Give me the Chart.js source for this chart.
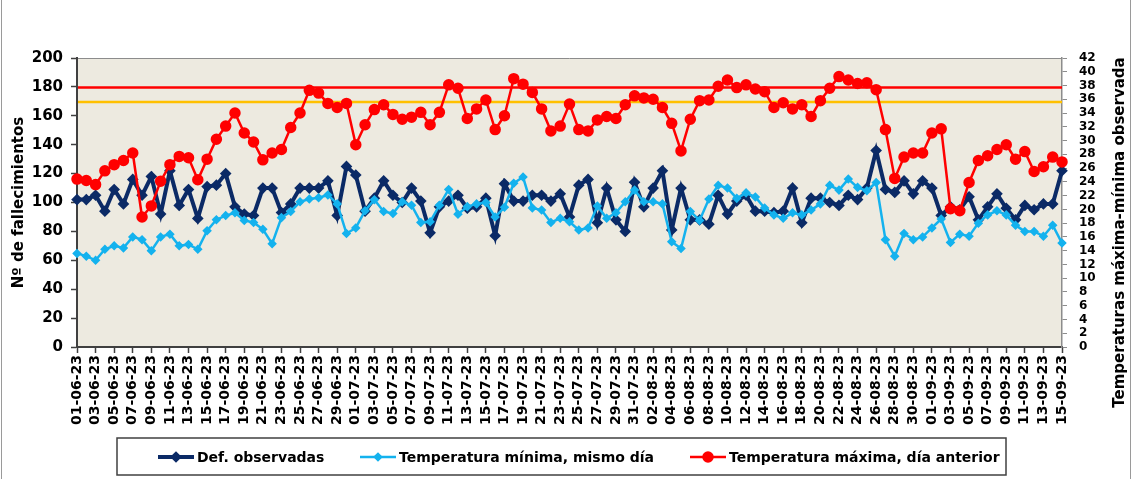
<!DOCTYPE html>
<html lang="es">
<head>
<meta charset="UTF-8">
<title>Defunciones observadas y temperaturas</title>
<script src="https://cdn.jsdelivr.net/npm/chart.js"></script>
<style>
  html, body { margin: 0; padding: 0; background: #fff; }
</style>
</head>
<body>
<canvas id="grafico" width="1132" height="479"></canvas>
<script>
// fechas (01-06-23 ... 15-09-23)
const fechas = [
  '01-06-23','02-06-23','03-06-23','04-06-23','05-06-23','06-06-23','07-06-23','08-06-23','09-06-23','10-06-23',
  '11-06-23','12-06-23','13-06-23','14-06-23','15-06-23','16-06-23','17-06-23','18-06-23','19-06-23','20-06-23',
  '21-06-23','22-06-23','23-06-23','24-06-23','25-06-23','26-06-23','27-06-23','28-06-23','29-06-23','30-06-23',
  '01-07-23','02-07-23','03-07-23','04-07-23','05-07-23','06-07-23','07-07-23','08-07-23','09-07-23','10-07-23',
  '11-07-23','12-07-23','13-07-23','14-07-23','15-07-23','16-07-23','17-07-23','18-07-23','19-07-23','20-07-23',
  '21-07-23','22-07-23','23-07-23','24-07-23','25-07-23','26-07-23','27-07-23','28-07-23','29-07-23','30-07-23',
  '31-07-23','01-08-23','02-08-23','03-08-23','04-08-23','05-08-23','06-08-23','07-08-23','08-08-23','09-08-23',
  '10-08-23','11-08-23','12-08-23','13-08-23','14-08-23','15-08-23','16-08-23','17-08-23','18-08-23','19-08-23',
  '20-08-23','21-08-23','22-08-23','23-08-23','24-08-23','25-08-23','26-08-23','27-08-23','28-08-23','29-08-23',
  '30-08-23','31-08-23','01-09-23','02-09-23','03-09-23','04-09-23','05-09-23','06-09-23','07-09-23','08-09-23',
  '09-09-23','10-09-23','11-09-23','12-09-23','13-09-23','14-09-23','15-09-23'
];

// defunciones observadas (eje izquierdo)
const defObservadas = [
  102,102,105,94,109,99,116,105,118,92,
  122,98,109,89,111,112,120,97,92,91,
  110,110,93,99,110,110,110,115,91,125,
  119,94,103,115,105,100,110,101,79,97,
  101,105,96,97,103,77,113,101,101,105,
  105,101,106,90,112,116,86,110,88,80,
  114,97,110,122,81,110,88,88,85,105,
  92,101,105,94,94,93,94,110,86,103,
  103,100,98,105,102,110,136,109,107,115,
  106,115,110,91,97,95,104,88,97,106,
  96,88,98,95,99,99,122
];

// temperatura mínima, mismo día (eje derecho)
const tempMinima = [
  13.6,13.2,12.6,14.2,14.7,14.4,16.0,15.6,14.0,16.0,
  16.4,14.7,14.9,14.2,16.9,18.5,19.1,19.5,18.4,18.1,
  17.1,15.0,18.8,19.7,21.1,21.5,21.7,22.1,20.8,16.5,
  17.3,19.8,21.4,19.7,19.4,21.1,20.6,18.1,18.2,20.6,
  22.9,19.3,20.4,20.8,21.0,18.9,20.3,23.8,24.7,20.2,
  19.9,18.1,18.7,18.2,17.0,17.3,20.5,18.7,19.5,21.1,
  22.8,21.1,21.1,20.8,15.3,14.3,19.7,18.4,21.5,23.5,
  23.1,21.6,22.4,21.8,20.2,19.2,18.7,19.5,19.2,19.9,
  20.8,23.5,22.8,24.4,23.2,22.7,23.9,15.6,13.2,16.5,
  15.6,16.0,17.3,18.6,15.2,16.4,16.1,18.0,19.2,19.8,
  19.2,17.7,16.8,16.8,16.1,17.7,15.1
];

// temperatura máxima, día anterior (eje derecho)
const tempMaxima = [
  24.4,24.2,23.6,25.6,26.5,27.1,28.2,18.9,20.5,24.1,
  26.5,27.7,27.5,24.3,27.3,30.2,32.1,34.0,31.1,29.8,
  27.2,28.2,28.7,31.9,34.0,37.3,36.9,35.4,34.8,35.4,
  29.4,32.3,34.5,35.2,33.8,33.1,33.4,34.1,32.3,34.1,
  38.1,37.6,33.2,34.6,35.9,31.6,33.6,39.0,38.2,37.0,
  34.6,31.4,32.1,35.3,31.6,31.4,33.0,33.5,33.2,35.2,
  36.5,36.2,36.0,34.8,32.5,28.5,33.1,35.8,35.9,37.9,
  38.8,37.7,38.1,37.5,37.1,34.8,35.5,34.6,35.2,33.5,
  35.8,37.6,39.3,38.8,38.3,38.4,37.4,31.6,24.5,27.6,
  28.2,28.2,31.1,31.7,20.1,19.8,23.9,27.1,27.8,28.7,
  29.4,27.3,28.4,25.5,26.2,27.6,26.9
];

// umbrales de temperatura máxima (eje derecho)
const umbralRojo = 37.7;
const umbralAmarillo = 35.6;

const FUENTE = '"DejaVu Sans", sans-serif';

const fondo = {
  id: 'fondo',
  beforeDraw(chart) {
    const { ctx, chartArea: a, width, height } = chart;
    ctx.save();
    ctx.fillStyle = '#fff';
    ctx.fillRect(0, 0, width, height);
    ctx.fillStyle = '#EDEAE0';
    ctx.fillRect(a.left, a.top, a.right - a.left, a.bottom - a.top);
    ctx.strokeStyle = '#8c8c8c';
    ctx.lineWidth = 1;
    ctx.beginPath();
    ctx.moveTo(a.left, a.top + 0.5);
    ctx.lineTo(a.right, a.top + 0.5);
    ctx.stroke();
    // marco exterior
    ctx.strokeStyle = '#9a9a9a';
    ctx.beginPath();
    ctx.moveTo(1.5, 0); ctx.lineTo(1.5, height);
    ctx.moveTo(width - 1.5, 0); ctx.lineTo(width - 1.5, height);
    ctx.stroke();
    ctx.restore();
  }
};

const umbrales = {
  id: 'umbrales',
  beforeDatasetsDraw(chart) {
    const { ctx, chartArea: a, scales } = chart;
    ctx.save();
    ctx.lineWidth = 2.5;
    [[umbralAmarillo, '#FFC000'], [umbralRojo, '#FF0000']].forEach(([v, color]) => {
      const y = scales.y2.getPixelForValue(v);
      ctx.strokeStyle = color;
      ctx.beginPath();
      ctx.moveTo(a.left + 1, y);
      ctx.lineTo(a.right, y);
      ctx.stroke();
    });
    ctx.restore();
  }
};

// leyenda con recuadro y título del eje derecho
const leyenda = {
  id: 'leyenda',
  afterDraw(chart) {
    const { ctx, chartArea: a } = chart;
    ctx.save();
    ctx.strokeStyle = '#404040';
    ctx.lineWidth = 1.5;
    ctx.strokeRect(117, 438, 889, 37);
    const y = 457;
    const xs = [158, 360, 690];
    ctx.font = 'bold 14px ' + FUENTE;
    ctx.textBaseline = 'middle';
    chart.data.datasets.forEach((ds, n) => {
      const x = xs[n];
      ctx.strokeStyle = ds.borderColor;
      ctx.lineWidth = ds.borderWidth;
      ctx.beginPath();
      ctx.moveTo(x, y);
      ctx.lineTo(x + 36, y);
      ctx.stroke();
      ctx.fillStyle = ds.pointBackgroundColor;
      ctx.strokeStyle = ds.pointBorderColor;
      Chart.helpers.drawPoint(ctx, { pointStyle: ds.pointStyle, radius: ds.pointRadius, borderWidth: 1, rotation: 0 }, x + 18, y);
      ctx.fillStyle = '#000';
      ctx.textAlign = 'left';
      ctx.fillText(ds.label, x + 39, y + 1);
    });
    // título eje derecho (de abajo arriba)
    ctx.translate(1120, (a.top + a.bottom) / 2 + 30);
    ctx.rotate(-Math.PI / 2);
    ctx.textAlign = 'center';
    ctx.font = 'bold 15px ' + FUENTE;
    ctx.fillText('Temperaturas máxima-mínima observada', 0, 0);
    ctx.restore();
  }
};

new Chart(document.getElementById('grafico'), {
  type: 'line',
  data: {
    labels: fechas,
    datasets: [
      {
        label: 'Def. observadas',
        data: defObservadas,
        yAxisID: 'y',
        borderColor: '#0B2A66',
        backgroundColor: '#0B2A66',
        pointBackgroundColor: '#0B2A66',
        pointBorderColor: '#0B2A66',
        borderWidth: 4,
        pointStyle: 'rectRot',
        pointRadius: 3,
        tension: 0,
        order: 3
      },
      {
        label: 'Temperatura mínima, mismo día',
        data: tempMinima,
        yAxisID: 'y2',
        borderColor: '#14B2EE',
        backgroundColor: '#14B2EE',
        pointBackgroundColor: '#14B2EE',
        pointBorderColor: '#14B2EE',
        borderWidth: 2.5,
        pointStyle: 'rectRot',
        pointRadius: 3,
        tension: 0,
        order: 2
      },
      {
        label: 'Temperatura máxima, día anterior',
        data: tempMaxima,
        yAxisID: 'y2',
        borderColor: '#FF0000',
        backgroundColor: '#FF0000',
        pointBackgroundColor: '#FF0000',
        pointBorderColor: '#FF0000',
        borderWidth: 2.5,
        pointStyle: 'circle',
        pointRadius: 4.5,
        tension: 0,
        order: 1
      }
    ]
  },
  options: {
    responsive: false,
    animation: false,
    layout: { padding: { left: 8, right: 0, top: 58, bottom: 52 } },
    plugins: {
      legend: { display: false },
      tooltip: { enabled: false }
    },
    scales: {
      x: {
        offset: false,
        grid: {
          drawOnChartArea: false,
          tickLength: 6,
          tickWidth: 1.5,
          tickColor: c => (c.index % 2 ? 'rgba(0,0,0,0)' : '#404040')
        },
        border: { color: '#404040', width: 2 },
        ticks: {
          autoSkip: false,
          minRotation: 90,
          maxRotation: 90,
          padding: 2,
          color: '#000',
          font: { family: FUENTE, size: 14, weight: 'bold' },
          callback: (v, i) => (i % 2 === 0 ? fechas[i] : '')
        },
        afterFit: s => { s.height = 80; }
      },
      y: {
        position: 'left',
        min: 0,
        max: 200,
        grid: { drawOnChartArea: false, tickLength: 6, tickColor: '#404040', tickWidth: 1.5 },
        border: { color: '#404040', width: 2 },
        ticks: {
          stepSize: 20,
          padding: 8,
          color: '#000',
          font: { family: FUENTE, size: 15, weight: 'bold' }
        },
        title: {
          display: true,
          text: 'Nº de fallecimientos',
          color: '#000',
          font: { family: FUENTE, size: 15, weight: 'bold' },
          padding: { top: 2, bottom: 0 }
        },
        afterFit: s => { s.width = 69; }
      },
      y2: {
        position: 'right',
        min: 0,
        max: 42,
        grid: { drawOnChartArea: false, tickLength: 5, tickColor: '#8c8c8c' },
        border: { color: '#8c8c8c', width: 1.5 },
        ticks: {
          stepSize: 2,
          autoSkip: false,
          padding: 12,
          color: '#000',
          font: { family: FUENTE, size: 12, weight: 'bold' }
        },
        afterFit: s => { s.width = 70; }
      }
    }
  },
  plugins: [fondo, umbrales, leyenda]
});
</script>
</body>
</html>
